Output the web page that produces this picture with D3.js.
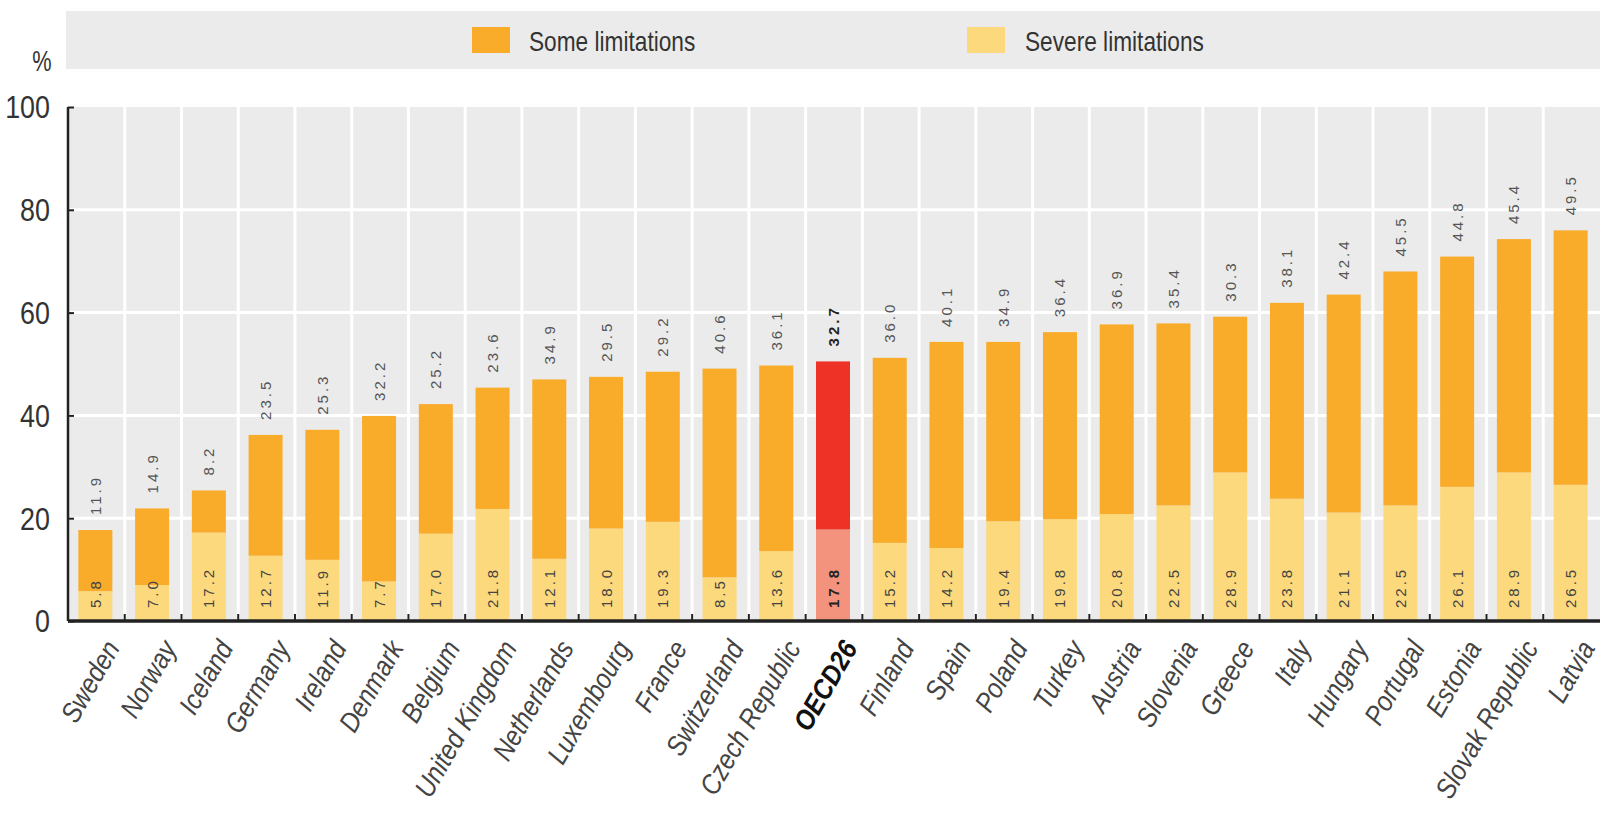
<!DOCTYPE html>
<html>
<head>
<meta charset="utf-8">
<script src="https://cdn.jsdelivr.net/npm/d3@7"></script>
<style>
  html, body { margin: 0; padding: 0; background: #fff; }
  svg { display: block; }
</style>
</head>
<body>
<svg id="chart" width="1600" height="825"></svg>
<script>
const categories = ["Sweden","Norway","Iceland","Germany","Ireland","Denmark","Belgium","United Kingdom","Netherlands","Luxembourg","France","Switzerland","Czech Republic","OECD26","Finland","Spain","Poland","Turkey","Austria","Slovenia","Greece","Italy","Hungary","Portugal","Estonia","Slovak Republic","Latvia"];
const severe = [5.8,7.0,17.2,12.7,11.9,7.7,17.0,21.8,12.1,18.0,19.3,8.5,13.6,17.8,15.2,14.2,19.4,19.8,20.8,22.5,28.9,23.8,21.1,22.5,26.1,28.9,26.5];
const some = [11.9,14.9,8.2,23.5,25.3,32.2,25.2,23.6,34.9,29.5,29.2,40.6,36.1,32.7,36.0,40.1,34.9,36.4,36.9,35.4,30.3,38.1,42.4,45.5,44.8,45.4,49.5];
const yTicks = [0,20,40,60,80,100];
const seriesNames = ["Some limitations","Severe limitations"];
const highlight = "OECD26";

const svg = d3.select("#chart");
const font = "'Liberation Sans',Arial,sans-serif";
const plot = {left: 68, right: 1600, top: 107, bottom: 621};

const x = d3.scaleBand().domain(categories).range([plot.left, plot.right]).padding(0);
const y = d3.scaleLinear().domain([0,100]).range([plot.bottom, plot.top]);

const colors = {
  some: "#f9ab2a", severe: "#fcd97c",
  someHi: "#ee3226", severeHi: "#f3937d"
};

// legend band
svg.append("rect").attr("x", 66).attr("y", 11).attr("width", 1600-66).attr("height", 58).attr("fill", "#ebebeb");
const legend = [
  {name: seriesNames[0], color: colors.some, sx: 472, tx: 529},
  {name: seriesNames[1], color: colors.severe, sx: 967, tx: 1025}
];
legend.forEach(l => {
  svg.append("rect").attr("x", l.sx).attr("y", 27).attr("width", 38).attr("height", 26).attr("fill", l.color);
  svg.append("text").attr("transform", `translate(${l.tx},41) scale(0.84,1)`).attr("dominant-baseline", "central")
    .attr("font-family", font).attr("font-size", 27).attr("fill", "#333").text(l.name);
});
svg.append("text").attr("transform", "translate(42,71) scale(0.75,1)").attr("text-anchor", "middle")
  .attr("font-family", font).attr("font-size", 29).attr("fill", "#333").text("%");

// plot background
svg.append("rect").attr("x", plot.left).attr("y", plot.top).attr("width", plot.right-plot.left).attr("height", plot.bottom-plot.top).attr("fill", "#ebebeb");

// horizontal grid
svg.append("g").selectAll("line").data(yTicks.filter(t => t>0 && t<100)).join("line")
  .attr("x1", plot.left).attr("x2", plot.right).attr("y1", d => y(d)).attr("y2", d => y(d))
  .attr("stroke", "#fff").attr("stroke-width", 3);
// vertical grid at band boundaries
svg.append("g").selectAll("line").data(categories.slice(1)).join("line")
  .attr("x1", d => x(d)).attr("x2", d => x(d)).attr("y1", plot.top).attr("y2", plot.bottom)
  .attr("stroke", "#fff").attr("stroke-width", 3);

// bars
const bw = x.bandwidth();
const barW = 34;
const data = categories.map((c,i) => ({c, severe: severe[i], some: some[i], hi: c === highlight}));
const bars = svg.append("g");
bars.selectAll("rect.sev").data(data).join("rect").attr("class","sev")
  .attr("x", d => x(d.c) + bw/2 - barW/2 - 1).attr("width", barW)
  .attr("y", d => y(d.severe)).attr("height", d => y(0) - y(d.severe))
  .attr("fill", d => d.hi ? colors.severeHi : colors.severe);
bars.selectAll("rect.some").data(data).join("rect").attr("class","some")
  .attr("x", d => x(d.c) + bw/2 - barW/2 - 1).attr("width", barW)
  .attr("y", d => y(d.severe + d.some)).attr("height", d => y(d.severe) - y(d.severe + d.some))
  .attr("fill", d => d.hi ? colors.someHi : colors.some);

// value labels
const lab = svg.append("g").attr("font-family", font).attr("font-size", 15).attr("letter-spacing", 3);
lab.selectAll("text.top").data(data).join("text").attr("class","top")
  .attr("transform", d => `translate(${x(d.c) + bw/2 - 1},${y(d.severe + d.some) - 15}) rotate(-90)`)
  .attr("dominant-baseline", "central").attr("text-anchor", "start")
  .attr("fill", d => d.hi ? "#222" : "#555").attr("font-weight", d => d.hi ? "bold" : "normal")
  .text(d => d.some.toFixed(1));
lab.selectAll("text.bot").data(data).join("text").attr("class","bot")
  .attr("transform", d => `translate(${x(d.c) + bw/2 - 1},${y(0) - 13}) rotate(-90)`)
  .attr("dominant-baseline", "central").attr("text-anchor", "start")
  .attr("fill", d => d.hi ? "#222" : "#444").attr("font-weight", d => d.hi ? "bold" : "normal")
  .text(d => d.severe.toFixed(1));

// y axis
const yAxis = svg.append("g").attr("transform", `translate(${plot.left},0)`)
  .call(d3.axisRight(y).tickValues(yTicks).tickSize(6).tickFormat(""));
yAxis.select(".domain").attr("stroke", "#222").attr("stroke-width", 2.5).attr("d", `M0,${plot.top}V${plot.bottom}`);
yAxis.selectAll(".tick line").attr("stroke", "#222").attr("stroke-width", 2);
svg.append("g").selectAll("text").data(yTicks).join("text")
  .attr("transform", d => `translate(50,${y(d)}) scale(0.84,1)`)
  .attr("dominant-baseline", "central").attr("text-anchor", "end")
  .attr("font-family", font).attr("font-size", 32).attr("fill", "#333").text(d => d);

// x axis
const xAxis = svg.append("g").attr("transform", `translate(0,${plot.bottom})`)
  .call(d3.axisTop(x).tickSize(0).tickFormat(""));
xAxis.select(".domain").attr("stroke", "#222").attr("stroke-width", 3.5).attr("d", `M${plot.left},0H${plot.right}`);
svg.append("g").selectAll("line").data(categories.slice(1)).join("line")
  .attr("x1", d => x(d)).attr("x2", d => x(d)).attr("y1", plot.bottom).attr("y2", plot.bottom - 7)
  .attr("stroke", "#222").attr("stroke-width", 2);

svg.append("g").selectAll("text").data(categories).join("text")
  .attr("transform", d => `translate(${x(d) + bw/2 + 16},${plot.bottom + 22}) rotate(-60) scale(0.88,1)`)
  .attr("text-anchor", "end").attr("dominant-baseline", "central")
  .attr("font-family", font).attr("font-style", "italic").attr("font-size", 28)
  .attr("font-weight", d => d === highlight ? "bold" : "normal")
  .attr("fill", d => d === highlight ? "#111" : "#444")
  .text(d => d);
</script>
</body>
</html>
